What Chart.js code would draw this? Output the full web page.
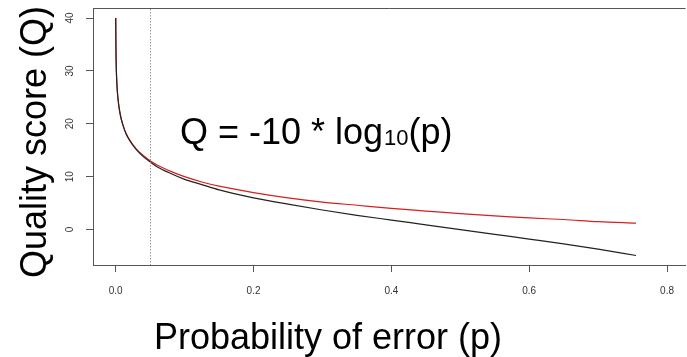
<!DOCTYPE html>
<html>
<head>
<meta charset="utf-8">
<script src="https://cdn.jsdelivr.net/npm/chart.js@4.4.1/dist/chart.umd.min.js"></script>
<style>
  html, body { margin: 0; padding: 0; background: #fff; }
  #wrap { width: 687px; height: 357px; position: relative; }
</style>
</head>
<body>
<div id="wrap"><canvas id="qualityChart"></canvas></div>
<script>
// probability of error
var pValues = [0.0001, 0.0002, 0.0005, 0.001, 0.002, 0.003, 0.005, 0.0075, 0.01, 0.015,
  0.02, 0.03, 0.04, 0.05, 0.06, 0.08, 0.1, 0.125, 0.15, 0.2,
  0.25, 0.3, 0.35, 0.4, 0.45, 0.5, 0.55, 0.6, 0.65, 0.7, 0.755];
// red curve (Phred)
var qPhred = [40, 37, 33, 30, 27, 25.2, 23, 21.2, 20, 18.2,
  17, 15.2, 14, 13, 12.2, 11, 10, 9, 8.2, 7,
  6, 5.2, 4.6, 4, 3.5, 3, 2.6, 2.2, 1.9, 1.5, 1.2];
// black curve (Solexa)
var qSolexa = [40, 37, 33, 30, 27, 25.2, 23, 21.2, 20, 18.1,
  16.9, 15.1, 13.8, 12.8, 11.9, 10.6, 9.5, 8.5, 7.5, 6,
  4.8, 3.7, 2.7, 1.8, 0.9, 0, -0.9, -1.8, -2.7, -3.7, -4.9];
var xTicks = [0.0, 0.2, 0.4, 0.6, 0.8];
var yTicks = [0, 10, 20, 30, 40];
var cutoffP = 0.05;

var axisColor = '#555';

var toPoints = function(ys) {
  return pValues.map(function(p, i) { return { x: p, y: ys[i] }; });
};

var rStylePlugin = {
  id: 'rStyle',
  afterDraw: function(chart) {
    var ctx = chart.ctx;
    var area = chart.chartArea;
    var xs = chart.scales.x;
    var ys = chart.scales.y;
    ctx.save();

    // top edge of the box
    ctx.strokeStyle = axisColor;
    ctx.lineWidth = 1;
    ctx.beginPath();
    ctx.moveTo(area.left, area.top + 0.5);
    ctx.lineTo(area.right, area.top + 0.5);
    ctx.stroke();

    // dotted cutoff line
    var cx = Math.round(xs.getPixelForValue(cutoffP)) + 0.5;
    ctx.strokeStyle = '#999';
    ctx.setLineDash([1.5, 1.5]);
    ctx.beginPath();
    ctx.moveTo(cx, area.top + 1);
    ctx.lineTo(cx, area.bottom);
    ctx.stroke();
    ctx.setLineDash([]);

    // y tick labels, rotated like R
    ctx.fillStyle = '#333';
    ctx.font = '10px "Liberation Sans", Arial, sans-serif';
    ctx.textAlign = 'center';
    ctx.textBaseline = 'middle';
    yTicks.forEach(function(v) {
      ctx.save();
      ctx.translate(70, ys.getPixelForValue(v));
      ctx.rotate(-Math.PI / 2);
      ctx.fillText(String(v), 0, 0);
      ctx.restore();
    });

    // axis titles
    ctx.fillStyle = '#000';
    ctx.font = '36px "Liberation Sans", Arial, sans-serif';
    ctx.textBaseline = 'alphabetic';
    ctx.fillText('Probability of error (p)', 328, 349);
    ctx.save();
    ctx.translate(46, 142);
    ctx.rotate(-Math.PI / 2);
    ctx.fillText('Quality score (Q)', 0, 0);
    ctx.restore();

    // formula
    ctx.textAlign = 'left';
    var tx = 180, ty = 144;
    var main = 'Q = -10 * log';
    ctx.fillText(main, tx, ty);
    tx += ctx.measureText(main).width;
    ctx.font = '22px "Liberation Sans", Arial, sans-serif';
    ctx.fillText('10', tx + 1, ty + 1);
    tx += ctx.measureText('10').width + 1;
    ctx.font = '36px "Liberation Sans", Arial, sans-serif';
    ctx.fillText('(p)', tx, ty);

    ctx.restore();
  }
};

new Chart(document.getElementById('qualityChart'), {
  type: 'scatter',
  data: {
    datasets: [{
      label: 'Solexa',
      data: toPoints(qSolexa),
      showLine: true,
      borderColor: '#222',
      borderWidth: 1.2,
      pointRadius: 0,
      cubicInterpolationMode: 'monotone'
    }, {
      label: 'Phred',
      data: toPoints(qPhred),
      showLine: true,
      borderColor: '#d81e1e',
      borderWidth: 1.2,
      pointRadius: 0,
      cubicInterpolationMode: 'monotone'
    }]
  },
  options: {
    responsive: true,
    maintainAspectRatio: false,
    animation: false,
    layout: { padding: { top: 8, right: 0, left: 0, bottom: 0 } },
    plugins: {
      legend: { display: false },
      tooltip: { enabled: false }
    },
    scales: {
      x: {
        type: 'linear',
        min: -0.0329,
        max: 0.8268,
        afterBuildTicks: function(scale) {
          scale.ticks = xTicks.map(function(v) { return { value: v }; });
        },
        afterFit: function(scale) { scale.height = 92; },
        grid: { drawOnChartArea: false, drawTicks: true, tickLength: 7, color: axisColor },
        border: { display: true, color: axisColor },
        ticks: {
          autoSkip: false,
          maxRotation: 0,
          padding: 13,
          color: '#333',
          font: { family: '"Liberation Sans", Arial, sans-serif', size: 10 },
          callback: function(v) { return Number(v).toFixed(1); }
        }
      },
      y: {
        type: 'linear',
        min: -6.7,
        max: 41.9,
        afterBuildTicks: function(scale) {
          scale.ticks = yTicks.map(function(v) { return { value: v }; });
        },
        afterFit: function(scale) { scale.width = 93; },
        grid: { drawOnChartArea: false, drawTicks: true, tickLength: 7, color: axisColor },
        border: { display: true, color: axisColor },
        ticks: { display: false }
      }
    }
  },
  plugins: [rStylePlugin]
});
</script>
</body>
</html>
